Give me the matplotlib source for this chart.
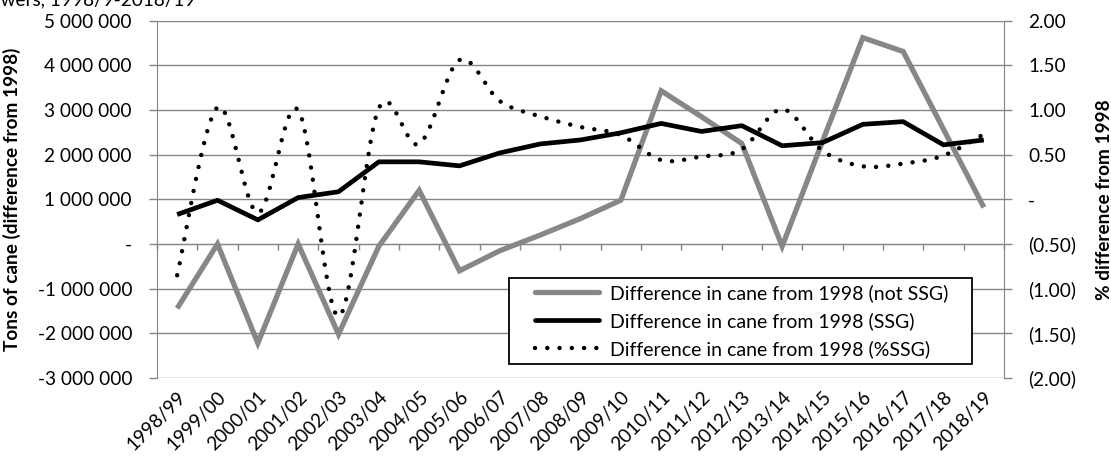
import numpy as np
import matplotlib
matplotlib.use("Agg")
import matplotlib.pyplot as plt
from matplotlib.ticker import FuncFormatter, MultipleLocator
from matplotlib.lines import Line2D
from matplotlib.legend_handler import HandlerLine2D
from matplotlib.transforms import ScaledTranslation

# ---- data -------------------------------------------------------------
seasons = ["1998/99", "1999/00", "2000/01", "2001/02", "2002/03", "2003/04",
           "2004/05", "2005/06", "2006/07", "2007/08", "2008/09", "2009/10",
           "2010/11", "2011/12", "2012/13", "2013/14", "2014/15", "2015/16",
           "2016/17", "2017/18", "2018/19"]

# tons of cane, difference from 1998
cane_not_ssg = [-1440000, 0, -2220000, 0, -2020000, -50000, 1200000, -600000,
                -150000, 200000, 570000, 980000, 3430000, 2850000, 2250000,
                -50000, 2300000, 4620000, 4310000, 2570000, 820000]
cane_ssg = [660000, 980000, 540000, 1040000, 1170000, 1840000, 1840000,
            1750000, 2040000, 2240000, 2330000, 2490000, 2700000, 2520000,
            2650000, 2200000, 2270000, 2680000, 2740000, 2220000, 2330000]
# percentage difference from 1998
pct_ssg = [-0.85, 1.03, -0.15, 1.00, -1.31, 1.02, 0.62, 1.56, 1.10, 0.93,
           0.81, 0.72, 0.44, 0.48, 0.56, 1.01, 0.545, 0.37, 0.40, 0.49, 0.73]

labels = ["Difference in cane from 1998 (not SSG)",
          "Difference in cane from 1998 (SSG)",
          "Difference in cane from 1998 (%SSG)"]

# ---- style ------------------------------------------------------------
plt.rcParams["font.family"] = ["Lato", "DejaVu Sans"]
FS = 13.7
GRID = "#868686"
GREY_LINE = "#878787"
DOTS = (0, (0.01, 2.75))


def smooth(xs, ys, n=40):
    """Catmull-Rom style cubic Bezier through every point (spreadsheet 'smoothed line')."""
    p = np.column_stack([xs, ys]).astype(float)
    pts = np.vstack([p[0], p, p[-1]])
    out = []
    for i in range(1, len(pts) - 2):
        p0, p1, p2, p3 = pts[i - 1], pts[i], pts[i + 1], pts[i + 2]
        c1 = p1 + (p2 - p0) / 6.0
        c2 = p2 - (p3 - p1) / 6.0
        t = np.linspace(0, 1, n)[:, None]
        seg = ((1 - t) ** 3) * p1 + 3 * ((1 - t) ** 2) * t * c1 \
            + 3 * (1 - t) * t ** 2 * c2 + t ** 3 * p2
        out.append(seg if i == 1 else seg[1:])
    out = np.vstack(out)
    return out[:, 0], out[:, 1]


class InsetHandler(HandlerLine2D):
    """Legend line sample that starts a little way in from the frame."""

    def __init__(self, inset, **kw):
        super().__init__(**kw)
        self.inset = inset

    def get_xdata(self, legend, xdescent, ydescent, width, height, fontsize):
        xd, xm = super().get_xdata(legend, xdescent, ydescent, width, height,
                                   fontsize)
        xd = np.asarray(xd, dtype=float).copy()
        xd[0] += self.inset
        return xd, xm


fig = plt.figure(figsize=(11.11, 4.57), dpi=100)
ax = fig.add_axes([157 / 1111, 1 - 378 / 457, 847 / 1111, (378 - 20.7) / 457])
ax2 = ax.twinx()

x = np.arange(len(seasons))

# ---- left axis: tons ------------------------------------------------------
ax.set_xlim(-0.5, len(seasons) - 0.5)
ax.set_ylim(-3000000, 5000000)
ax.yaxis.set_major_locator(MultipleLocator(1000000))


def tons_fmt(v, _):
    if abs(v) < 1:
        return "-"
    s = f"{abs(v):,.0f}".replace(",", " ")
    return ("-" if v < 0 else "") + s


ax.yaxis.set_major_formatter(FuncFormatter(tons_fmt))
ax.grid(axis="y", color=GRID, linewidth=1.0)
ax.set_axisbelow(True)
ax.tick_params(axis="y", direction="out", length=5.5, width=1.0, color=GRID,
               labelsize=FS, pad=12.5)

# category boundary ticks along the zero line
ax.set_xticks(np.arange(-0.5, len(seasons), 1.0))
ax.tick_params(axis="x", direction="out", length=4.5, width=1.0, color=GRID,
               labelbottom=False)
ax.spines["bottom"].set_position(("data", 0))
ax.spines["bottom"].set_color(GRID)
ax.spines["left"].set_color(GRID)
ax.spines["top"].set_visible(False)
ax.spines["right"].set_visible(False)

ax.plot(x, cane_not_ssg, color=GREY_LINE, linewidth=3.8,
        solid_joinstyle="miter", solid_capstyle="butt", zorder=3)
ax.plot(x, cane_ssg, color="black", linewidth=3.4,
        solid_joinstyle="round", solid_capstyle="butt", zorder=4)

ax.set_ylabel("Tons of cane (difference from 1998)", fontsize=FS,
              fontweight="bold", labelpad=12)

# season labels along the bottom edge
sec = ax.secondary_xaxis("bottom")
sec.set_xticks(x, seasons)
sec.tick_params(axis="x", length=0, labelsize=FS, pad=6)
sec.spines["bottom"].set_visible(False)
for lab in sec.get_xticklabels():
    lab.set_rotation(45)
    lab.set_ha("right")
    lab.set_va("center")
    lab.set_rotation_mode("anchor")
    lab.set_transform(lab.get_transform()
                      + ScaledTranslation(6 / 100, -8 / 100, fig.dpi_scale_trans))

# ---- right axis: percent --------------------------------------------------
ax2.set_ylim(-2.0, 2.0)
ax2.yaxis.set_major_locator(MultipleLocator(0.5))


def pct_fmt(v, _):
    if abs(v) < 1e-9:
        return "-"
    if v < 0:
        return f"({abs(v):.2f})"
    return f"{v:.2f}"


ax2.yaxis.set_major_formatter(FuncFormatter(pct_fmt))
ax2.tick_params(axis="y", direction="out", length=5.5, width=1.0, color=GRID,
                labelsize=FS, pad=12)
for t in ax2.get_yticklabels():
    t.set_ha("left")
for side in ("top", "bottom", "left"):
    ax2.spines[side].set_visible(False)
ax2.spines["right"].set_color(GRID)

sx, sy = smooth(x, pct_ssg)
ax2.plot(sx, sy, color="black", linewidth=3.2, linestyle=DOTS,
         dash_capstyle="round", zorder=5)
ax2.set_ylabel("% difference from 1998", fontsize=FS, fontweight="bold",
               rotation=90, labelpad=14)

# ---- legend -------------------------------------------------------------
handles = [
    Line2D([], [], color=GREY_LINE, linewidth=3.8, solid_capstyle="round"),
    Line2D([], [], color="black", linewidth=3.4, solid_capstyle="round"),
    Line2D([], [], color="black", linewidth=3.2, linestyle=DOTS,
           dash_capstyle="round"),
]
leg_x0 = (509 - 157) / 847
leg_w = (972 - 509) / 847
leg_top = (378 - 278) / 357.3
inset = InsetHandler(14.5)
leg = ax2.legend(handles, labels, loc="upper left", mode="expand",
                 bbox_to_anchor=(leg_x0, leg_top, leg_w, 0), borderaxespad=0,
                 fontsize=14.0, frameon=True, fancybox=False, framealpha=1,
                 edgecolor="black", handlelength=4.3, handletextpad=0.6,
                 labelspacing=0.52, borderpad=0.31,
                 handler_map={h: inset for h in handles})
leg.get_frame().set_linewidth(1.3)
leg.set_zorder(10)

# partly visible caption at the top edge
fig.text(-0.028, 1.0, "Growers, 1998/9-2018/19", fontsize=FS, va="center",
         ha="left")

fig.savefig("out.png", dpi=100)
